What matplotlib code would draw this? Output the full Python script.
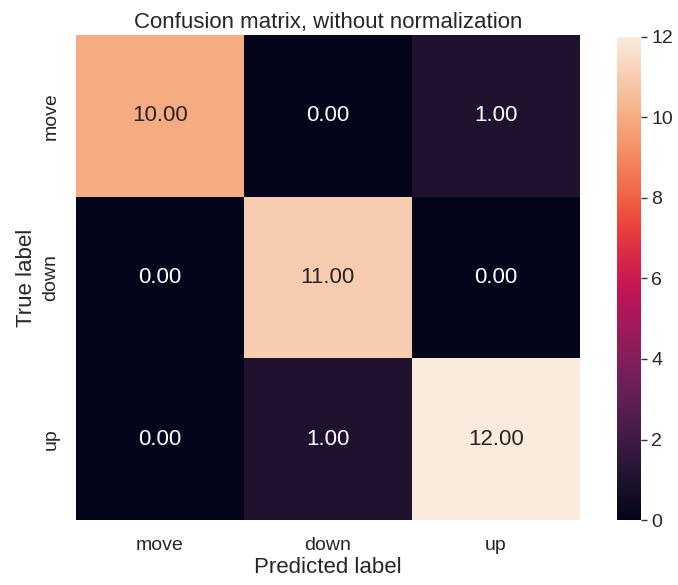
import numpy as np
import matplotlib
matplotlib.use("Agg")
import matplotlib.pyplot as plt
import seaborn as sns

classes = ["move", "down", "up"]
cm = np.array([
    [10, 0, 1],
    [0, 11, 0],
    [0, 1, 12],
])

sns.set_style("white")
plt.rcParams["font.family"] = ["Liberation Sans", "DejaVu Sans"]

fig = plt.figure(figsize=(6.78, 5.85), dpi=100)
ax = fig.add_axes([0.112, 0.111, 0.743, 0.829])
cax = fig.add_axes([0.910, 0.111, 0.035, 0.826])

sns.heatmap(cm, annot=True, fmt=".2f", cmap="rocket", vmin=0, vmax=12,
            ax=ax, cbar_ax=cax, annot_kws={"fontsize": 16},
            xticklabels=classes, yticklabels=classes)

ax.set_title("Confusion matrix, without normalization", fontsize=16, pad=5)
ax.set_xlabel("Predicted label", fontsize=16, labelpad=2)
ax.set_ylabel("True label", fontsize=16, labelpad=4)
ax.tick_params(axis="both", labelsize=14, length=0, pad=12)
plt.setp(ax.get_yticklabels(), rotation=90, va="center")
plt.setp(ax.get_xticklabels(), rotation=0)

cax.tick_params(labelsize=14, length=4, width=1, color="#333333")
cax.set_yticks([0, 2, 4, 6, 8, 10, 12])

fig.savefig("out.png", dpi=100)
plt.close(fig)
